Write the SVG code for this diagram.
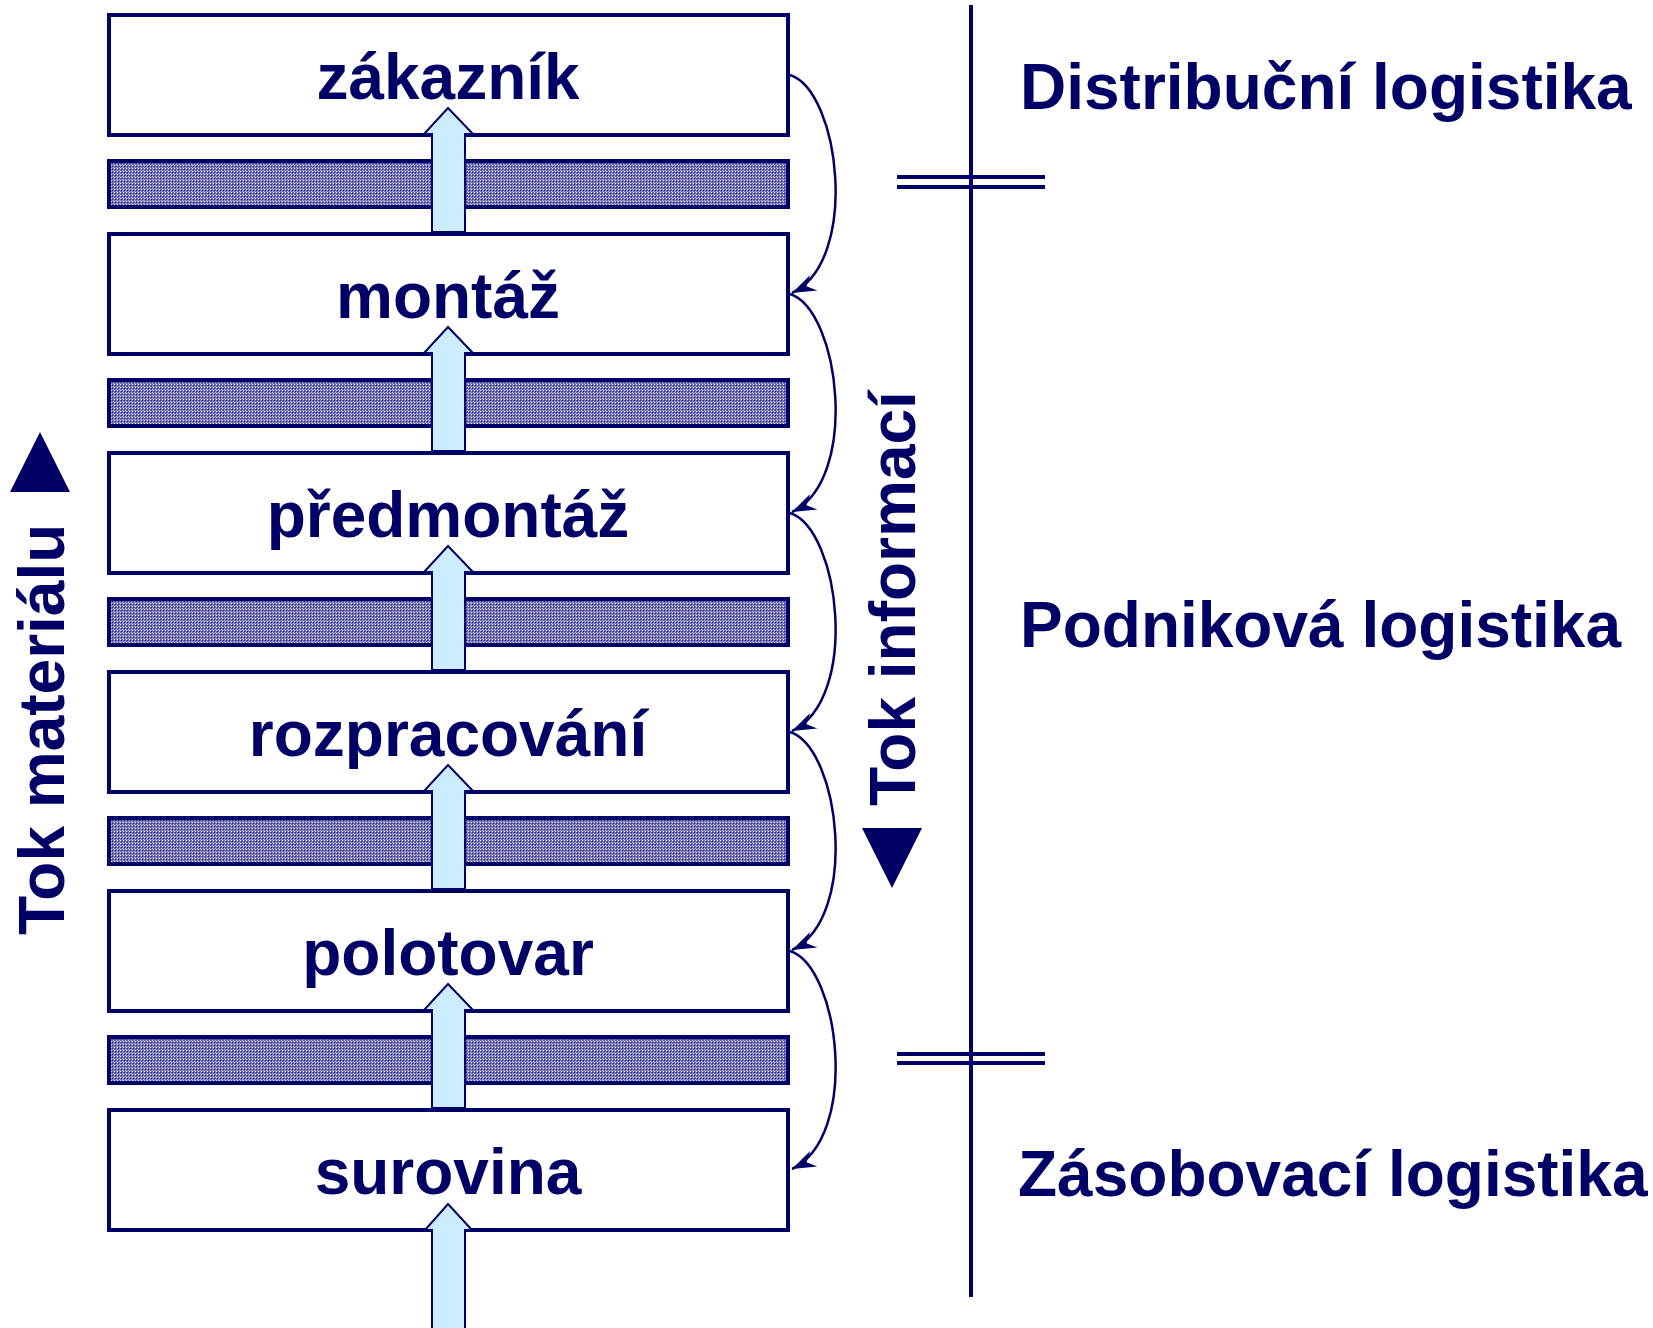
<svg xmlns="http://www.w3.org/2000/svg" width="1653" height="1328" viewBox="0 0 1653 1328">
<style>
.box{fill:#fff;stroke:#000066;stroke-width:4}
.bar{fill:url(#hatch);stroke:#000066;stroke-width:4}
.lbl{font-family:"Liberation Sans",Arial,sans-serif;font-weight:bold;font-size:64px;fill:#000066}
.cen{text-anchor:middle}
.arr{fill:#CCECFF;stroke:#000066;stroke-width:2;stroke-linejoin:miter}
.con{fill:none;stroke:#000066;stroke-width:2.5}
.ln{stroke:#000066;stroke-width:4;fill:none}
.tri{fill:#000066}
</style>
<defs>
<pattern id="hatch" width="3" height="3" patternUnits="userSpaceOnUse">
<rect width="3" height="3" fill="#6E6EB0"/>
<rect x="0" y="0" width="1" height="1" fill="#EDEDFA"/>
<rect x="1" y="1" width="1" height="1" fill="#2A2A80"/>
<rect x="2" y="2" width="1" height="1" fill="#A8A8D8"/>
</pattern>
<marker id="ah" markerUnits="userSpaceOnUse" markerWidth="30" markerHeight="24" viewBox="-24 -12 28 24" refX="0" refY="0" orient="auto">
<path d="M0,0 L-24,-8.5 L-16,0 L-24,8.5 Z" fill="#000066"/>
</marker>
<path id="arrow" d="M448,108 L473,134 L465,134 L465,232 L432,232 L432,134 L424,134 Z"/>
</defs>

<g id="bars">
<rect class="bar" x="109" y="161" width="679" height="46"/>
<rect class="bar" x="109" y="380" width="679" height="46"/>
<rect class="bar" x="109" y="599" width="679" height="46"/>
<rect class="bar" x="109" y="818" width="679" height="46"/>
<rect class="bar" x="109" y="1037" width="679" height="46"/>
</g>

<g id="node-zakaznik"><rect class="box" x="109" y="15" width="679" height="120"/><text class="lbl cen" x="448" y="99">zákazník</text></g>
<g id="node-montaz"><rect class="box" x="109" y="234" width="679" height="120"/><text class="lbl cen" x="448" y="318">montáž</text></g>
<g id="node-predmontaz"><rect class="box" x="109" y="453" width="679" height="120"/><text class="lbl cen" x="448" y="537">předmontáž</text></g>
<g id="node-rozpracovani"><rect class="box" x="109" y="672" width="679" height="120"/><text class="lbl cen" x="448" y="756">rozpracování</text></g>
<g id="node-polotovar"><rect class="box" x="109" y="891" width="679" height="120"/><text class="lbl cen" x="448" y="975">polotovar</text></g>
<g id="node-surovina"><rect class="box" x="109" y="1110" width="679" height="120"/><text class="lbl cen" x="448" y="1194">surovina</text></g>

<g id="material-arrows">
<use href="#arrow" class="arr"/>
<use href="#arrow" class="arr" transform="translate(0,219)"/>
<use href="#arrow" class="arr" transform="translate(0,438)"/>
<use href="#arrow" class="arr" transform="translate(0,657)"/>
<use href="#arrow" class="arr" transform="translate(0,876)"/>
<path class="arr" d="M448,1204 L472,1230 L465,1230 L465,1332 L432,1332 L432,1230 L425,1230 Z"/>
</g>

<g id="connectors">
<path class="con" marker-end="url(#ah)" d="M790,75 C840,91 860,261 792,293"/>
<path class="con" marker-end="url(#ah)" d="M790,294 C840,310 860,480 792,512"/>
<path class="con" marker-end="url(#ah)" d="M790,513 C840,529 860,699 792,731"/>
<path class="con" marker-end="url(#ah)" d="M790,732 C840,748 860,918 792,950"/>
<path class="con" marker-end="url(#ah)" d="M790,951 C840,967 860,1137 792,1169"/>
</g>

<g id="flow-labels">
<polygon class="tri" points="40,432 70,492 10,492"/>
<text class="lbl" transform="translate(64,935) rotate(-90)">Tok materiálu</text>
<polygon class="tri" points="862,828 922,828 892,888"/>
<text class="lbl" transform="translate(915,806) rotate(-90)">Tok informací</text>
</g>

<g id="divider">
<line class="ln" x1="971" y1="5" x2="971" y2="1297"/>
<line class="ln" x1="897" y1="177" x2="1045" y2="177"/>
<line class="ln" x1="897" y1="187" x2="1045" y2="187"/>
<line class="ln" x1="897" y1="1054" x2="1045" y2="1054"/>
<line class="ln" x1="897" y1="1063" x2="1045" y2="1063"/>
</g>

<g id="sections">
<text class="lbl" x="1020" y="109">Distribuční logistika</text>
<text class="lbl" x="1020" y="647">Podniková logistika</text>
<text class="lbl" x="1018" y="1196">Zásobovací logistika</text>
</g>
</svg>
